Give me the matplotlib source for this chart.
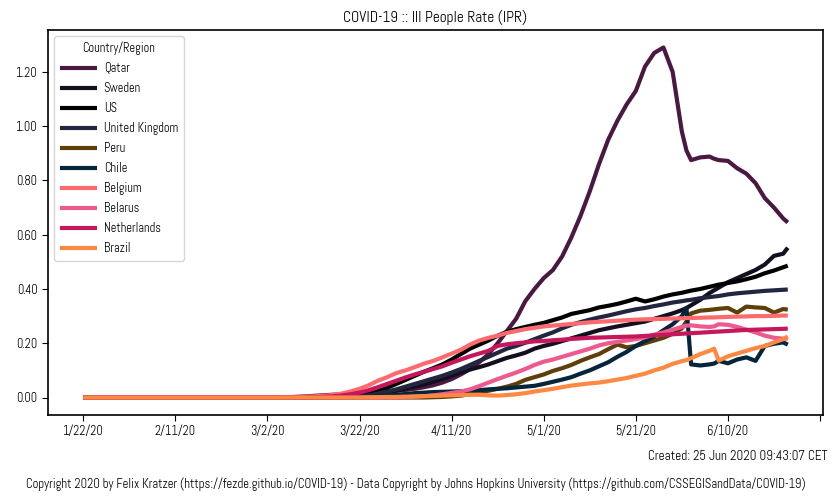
import numpy as np
import matplotlib as mpl
mpl.use('Agg')
from matplotlib import pyplot as plt
from matplotlib import font_manager as fm

# narrow font as in the original, fall back to DejaVu
_names = set(f.name for f in fm.fontManager.ttflist)
_fam = [f for f in ['Abel', 'Archivo Narrow', 'DejaVu Sans'] if f in _names]
plt.rcParams['font.family'] = _fam

# days since 1/22/20
days = [0, 40, 42, 44, 46, 48, 50, 52, 54, 56, 58, 60, 62, 64, 66, 68, 70, 72, 74, 76,
        78, 80, 82, 84, 86, 88, 90, 92, 94, 96, 98, 100, 102, 104, 106, 108, 110, 112,
        114, 116, 118, 120, 122, 124, 126, 128, 130, 131, 132, 134, 136, 137, 138, 140,
        142, 144, 146, 148, 150, 152, 153]

qatar = [0, 0, 0, 0.001, 0.002, 0.004, 0.006, 0.008, 0.01, 0.012, 0.014, 0.016, 0.018, 0.02,
         0.022, 0.025, 0.028, 0.032, 0.038, 0.045, 0.055, 0.068, 0.085, 0.105, 0.13, 0.16,
         0.2, 0.245, 0.29, 0.355, 0.4, 0.44, 0.47, 0.52, 0.59, 0.67, 0.76, 0.86, 0.95, 1.02,
         1.08, 1.13, 1.22, 1.27, 1.29, 1.2, 0.98, 0.91, 0.875, 0.885, 0.888, 0.88, 0.875,
         0.872, 0.845, 0.825, 0.79, 0.735, 0.7, 0.66, 0.645]
sweden = [0, 0, 0, 0, 0, 0, 0, 0, 0, 0.001, 0.003, 0.005, 0.008, 0.012, 0.018, 0.025, 0.032,
          0.04, 0.048, 0.058, 0.068, 0.08, 0.092, 0.103, 0.112, 0.122, 0.134, 0.146, 0.155,
          0.165, 0.18, 0.19, 0.198, 0.208, 0.218, 0.228, 0.238, 0.248, 0.255, 0.262, 0.268,
          0.274, 0.28, 0.29, 0.3, 0.31, 0.322, 0.33, 0.34, 0.36, 0.385, 0.395, 0.405, 0.425,
          0.44, 0.455, 0.47, 0.49, 0.522, 0.53, 0.552]
us = [0, 0, 0, 0, 0, 0, 0, 0.001, 0.002, 0.004, 0.006, 0.008, 0.014, 0.024, 0.036, 0.05,
      0.065, 0.08, 0.095, 0.108, 0.122, 0.14, 0.16, 0.18, 0.195, 0.21, 0.228, 0.242, 0.252,
      0.26, 0.268, 0.275, 0.285, 0.295, 0.308, 0.315, 0.322, 0.332, 0.338, 0.345, 0.354,
      0.364, 0.354, 0.362, 0.372, 0.38, 0.386, 0.39, 0.394, 0.4, 0.408, 0.412, 0.416, 0.422,
      0.428, 0.436, 0.445, 0.458, 0.468, 0.48, 0.486]
uk = [0, 0, 0, 0, 0, 0, 0, 0, 0, 0.001, 0.002, 0.004, 0.008, 0.014, 0.022, 0.03, 0.04, 0.05,
      0.06, 0.07, 0.08, 0.092, 0.105, 0.12, 0.135, 0.15, 0.165, 0.18, 0.19, 0.202, 0.215,
      0.228, 0.24, 0.255, 0.268, 0.278, 0.287, 0.295, 0.302, 0.31, 0.318, 0.325, 0.33, 0.337,
      0.343, 0.35, 0.355, 0.358, 0.36, 0.366, 0.37, 0.372, 0.374, 0.38, 0.384, 0.387, 0.39,
      0.393, 0.395, 0.397, 0.398]
peru = [0, 0, 0, 0, 0, 0, 0, 0, 0, 0, 0, 0, 0, 0, 0, 0, 0, 0, 0, 0.001, 0.002, 0.004, 0.007,
        0.012, 0.018, 0.025, 0.032, 0.04, 0.05, 0.065, 0.075, 0.085, 0.098, 0.108, 0.12,
        0.135, 0.148, 0.16, 0.178, 0.195, 0.185, 0.19, 0.2, 0.21, 0.22, 0.235, 0.255, 0.28,
        0.31, 0.32, 0.323, 0.325, 0.327, 0.33, 0.313, 0.335, 0.332, 0.33, 0.313, 0.326, 0.324]
chile = [0, 0, 0, 0, 0, 0, 0, 0, 0, 0, 0, 0.001, 0.002, 0.004, 0.007, 0.01, 0.013, 0.016,
         0.018, 0.02, 0.021, 0.022, 0.023, 0.025, 0.027, 0.03, 0.032, 0.034, 0.037, 0.04,
         0.043, 0.05, 0.058, 0.066, 0.075, 0.088, 0.1, 0.115, 0.13, 0.15, 0.168, 0.19, 0.208,
         0.225, 0.248, 0.27, 0.3, 0.33, 0.122, 0.118, 0.122, 0.125, 0.135, 0.126, 0.14,
         0.148, 0.135, 0.19, 0.198, 0.203, 0.195]
belgium = [0, 0, 0, 0.001, 0.002, 0.003, 0.004, 0.006, 0.009, 0.014, 0.022, 0.032, 0.045,
           0.062, 0.075, 0.09, 0.1, 0.112, 0.125, 0.135, 0.148, 0.162, 0.176, 0.195, 0.21,
           0.22, 0.228, 0.238, 0.245, 0.252, 0.257, 0.262, 0.265, 0.268, 0.271, 0.274, 0.277,
           0.279, 0.281, 0.283, 0.285, 0.287, 0.288, 0.289, 0.29, 0.291, 0.292, 0.293, 0.293,
           0.294, 0.295, 0.295, 0.296, 0.297, 0.298, 0.299, 0.3, 0.3, 0.301, 0.302, 0.302]
belarus = [0, 0, 0, 0, 0, 0, 0, 0, 0, 0, 0, 0, 0, 0, 0, 0, 0.001, 0.003, 0.005, 0.008, 0.012,
           0.017, 0.022, 0.03, 0.042, 0.055, 0.068, 0.08, 0.092, 0.105, 0.12, 0.132, 0.14,
           0.15, 0.16, 0.17, 0.18, 0.192, 0.2, 0.205, 0.21, 0.215, 0.222, 0.232, 0.24, 0.25,
           0.26, 0.265, 0.266, 0.262, 0.26, 0.262, 0.27, 0.268, 0.26, 0.25, 0.24, 0.228, 0.22,
           0.217, 0.217]
netherlands = [0, 0, 0, 0, 0, 0, 0.001, 0.002, 0.004, 0.007, 0.012, 0.018, 0.027, 0.038,
               0.05, 0.062, 0.074, 0.085, 0.095, 0.105, 0.115, 0.128, 0.14, 0.152, 0.162,
               0.172, 0.19, 0.196, 0.2, 0.203, 0.207, 0.208, 0.211, 0.213, 0.216, 0.218, 0.22,
               0.221, 0.222, 0.223, 0.224, 0.225, 0.227, 0.229, 0.231, 0.233, 0.235, 0.236,
               0.237, 0.239, 0.241, 0.242, 0.243, 0.245, 0.247, 0.249, 0.25, 0.251, 0.252,
               0.253, 0.254]
brazil = [0, 0, 0, 0, 0, 0, 0, 0, 0, 0, 0, 0, 0.001, 0.001, 0.002, 0.002, 0.003, 0.004, 0.005,
          0.006, 0.007, 0.008, 0.009, 0.01, 0.01, 0.008, 0.007, 0.009, 0.012, 0.016, 0.022,
          0.027, 0.032, 0.038, 0.044, 0.048, 0.052, 0.055, 0.06, 0.066, 0.072, 0.08, 0.088,
          0.1, 0.11, 0.124, 0.134, 0.138, 0.145, 0.16, 0.172, 0.18, 0.136, 0.152, 0.162, 0.172,
          0.182, 0.19, 0.203, 0.215, 0.225]

countries = ['Qatar', 'Sweden', 'US', 'United Kingdom', 'Peru', 'Chile', 'Belgium',
             'Belarus', 'Netherlands', 'Brazil']
series = [qatar, sweden, us, uk, peru, chile, belgium, belarus, netherlands, brazil]
colors = ['#4a1942', '#140f1f', '#000000', '#232640', '#5e3f0a', '#05263a', '#ff6a6e',
          '#ee5a8e', '#c4175c', '#ff8843']

tick_days = [0, 20, 40, 60, 80, 100, 120, 140, 160]
tick_labels = ['1/22/20', '2/11/20', '3/2/20', '3/22/20', '4/11/20', '5/1/20', '5/21/20',
               '6/10/20', '']

fig = plt.figure(figsize=(8.32, 5.0), dpi=100)
ax = fig.add_axes([0.0577, 0.17, 0.9315, 0.77])

for name, vals, c in zip(countries, series, colors):
    ax.plot(days, vals, color=c, lw=3, label=name, solid_capstyle='butt')

ax.set_xticks(tick_days)
ax.set_xticklabels(tick_labels)
ax.set_yticks([0, 0.2, 0.4, 0.6, 0.8, 1.0, 1.2])
ax.set_yticklabels(['%.2f' % v for v in [0, 0.2, 0.4, 0.6, 0.8, 1.0, 1.2]])
ax.tick_params(labelsize=9, length=4)
for s in ax.spines.values():
    s.set_linewidth(1.2)

ax.set_title('COVID-19 :: Ill People Rate (IPR)', fontsize=11, pad=6)
leg = ax.legend(title='Country/Region', loc='upper left', fontsize=9, title_fontsize=9,
                labelspacing=0.56, handlelength=3.0, handletextpad=0.5, borderpad=0.45)
leg.get_frame().set_edgecolor('#cccccc')

fig.text(0.994, 0.087, 'Created: 25 Jun 2020 09:43:07 CET', ha='right', va='center',
         fontsize=9.5)
fig.text(0.5, 0.032, 'Copyright 2020 by Felix Kratzer (https://fezde.github.io/COVID-19) - '
         'Data Copyright by Johns Hopkins University '
         '(https://github.com/CSSEGISandData/COVID-19)', ha='center', va='center',
         fontsize=9.1)

fig.savefig('out.png', dpi=100)
